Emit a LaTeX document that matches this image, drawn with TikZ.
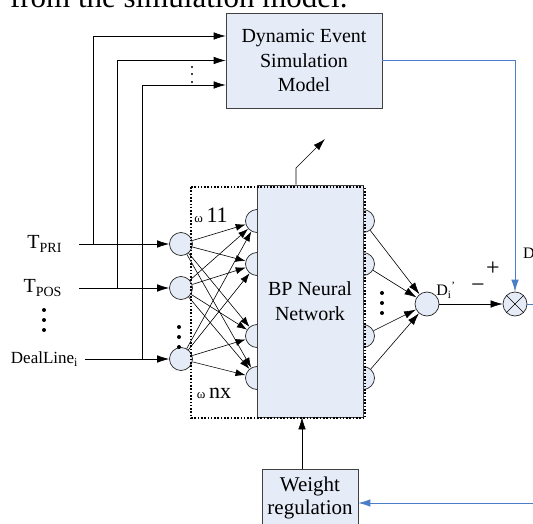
\documentclass[tikz,border=0pt]{standalone}
\usepackage{fontspec}
\setmainfont{Liberation Serif}
\usetikzlibrary{arrows.meta}
\definecolor{boxfill}{RGB}{230,236,247}
\definecolor{fbline}{RGB}{74,126,201}
\begin{document}
\begin{tikzpicture}[x=1pt,y=-1pt,>={Latex[length=12pt,width=7.5pt]},line width=0.6pt,
	font=\fontsize{20}{24.5}\selectfont]
	\tikzset{block/.style={draw=black!75, fill=boxfill, align=center, inner sep=0pt},
		neuron/.style={circle, draw=black!85, line width=0.7pt, fill=boxfill, minimum size=23pt, inner sep=0pt},
		feedback/.style={draw=fbline, line width=0.8pt},
		weightline/.style={-{Latex[length=10pt,width=7pt]}},
		lbl/.style={inner sep=0pt, outer sep=0pt},
		dotframe/.style={line width=1.6pt, dash pattern=on 1.6pt off 1.7pt}}
	\useasboundingbox (0,0) rectangle (533,524);
	\clip (0,0) rectangle (533,524);
	%Text oben
	\node[lbl, anchor=base west, font=\fontsize{31}{31}\selectfont] (caption) at (10,8) {from the simulation model.};
	
	%Simulationsmodell
	\node[block, minimum width=156pt, minimum height=95pt] (sim) at (304,60.5) {Dynamic Event\\Simulation\\Model};
	
	%Netz
	\node[neuron] (h1) at (257,221) {};
	\node[neuron] (h2) at (257,264) {};
	\node[neuron] (h3) at (257,336) {};
	\node[neuron] (h4) at (257,378) {};
	\node[neuron] (o1) at (363,221) {};
	\node[neuron] (o2) at (363,264) {};
	\node[neuron] (o3) at (363,336) {};
	\node[neuron] (o4) at (363,378) {};
	\node[block, minimum width=106pt, minimum height=232pt] (bp) at (310,301) {BP Neural\\Network};
	\node[neuron] (in1) at (181,244) {};
	\node[neuron] (in2) at (181,288) {};
	\node[neuron] (in3) at (181,359) {};
	\node[neuron, minimum size=24pt] (out) at (427,304) {};
	\node[neuron, minimum size=24pt] (err) at (515,304) {};
	\draw[dotframe] (191,187) rectangle (365,418);
	\node[lbl, font=\fontsize{22}{22}\selectfont] (w11) at (211,215) {{\fontsize{13}{13}\selectfont ω}\,11};
	\node[lbl, font=\fontsize{22}{22}\selectfont] (wnx) at (214,393) {{\fontsize{13}{13}\selectfont ω}\,nx};
	\foreach \i in {1,2,3}
	\foreach \j in {1,...,4}
	\draw[weightline] (in\i) -- (h\j);
	\foreach \j in {1,...,4}
	\draw[->] (o\j) -- (out);
	
	%Eingaenge
	\node[lbl, anchor=east] (tpri) at (62,244) {T\textsubscript{PRI}};
	\node[lbl, anchor=east] (tpos) at (62,288) {T\textsubscript{POS}};
	\node[lbl, anchor=east, font=\fontsize{17}{17}\selectfont] (dline) at (78,359) {DealLine\textsubscript{i}};
	\draw[->] ([xshift=17pt]tpri.east) -- (in1);
	\draw[->] ([xshift=17pt]tpos.east) -- (in2);
	\draw[->] ([xshift=7pt]dline.east) -- (in3);
	\coordinate (j1) at (93,0 |- in1);
	\coordinate (j2) at (117,0 |- in2);
	\coordinate (j3) at (142,0 |- in3);
	\draw[->] (j1) |- ([yshift=24.5pt]sim.west);
	\draw[->] (j2) |- (sim.west);
	\draw[->] (j3) |- ([yshift=-24.5pt]sim.west);
	\foreach \y in {67,74,82} \fill (192,\y) circle (1.2pt);
	\foreach \y in {310,320,330} \fill (44,\y) circle (2pt);
	\foreach \y in {327,337,347} \fill (179,\y) circle (2pt);
	\foreach \y in {293,303,313} \fill (382,\y) circle (2pt);
	
	%Ausgang
	\draw (err.north west) -- (err.south east) (err.north east) -- (err.south west);
	\draw[->] (out) -- (err);
	\node[lbl, font=\fontsize{16}{16}\selectfont] (dout) at (446,290) {D\textsubscript{i}\textsuperscript{’}};
	\node[lbl, font=\fontsize{24}{24}\selectfont] (minus) at (478,288) {−};
	\node[lbl, font=\fontsize{24}{24}\selectfont] (plus) at (493,269) {+};
	\node[lbl, anchor=west, font=\fontsize{16}{16}\selectfont] (dreal) at (523,255) {D\textsubscript{i}};
	\draw[feedback,->] (sim.east) -| (err.north);
	\coordinate (errout) at (540,304);
	\draw[feedback] (err.east) -- (errout);
	
	%Gewichte
	\node[block, minimum width=96pt, minimum height=57pt, font=\fontsize{21}{23}\selectfont] (weight) at (310,497.5) {Weight\\regulation};
	\coordinate (wfb) at (540,503);
	\draw[feedback,->] (wfb) -- (weight.east |- wfb);
	\draw[->] ([xshift=-8pt]weight.north) -- ([xshift=-8pt]bp.south);
	\coordinate (bend) at (296,168);
	\coordinate (wtip) at (325,139);
	\draw[->] ([xshift=-14pt]bp.north) -- (bend) -- (wtip);
\end{tikzpicture}
\end{document}
